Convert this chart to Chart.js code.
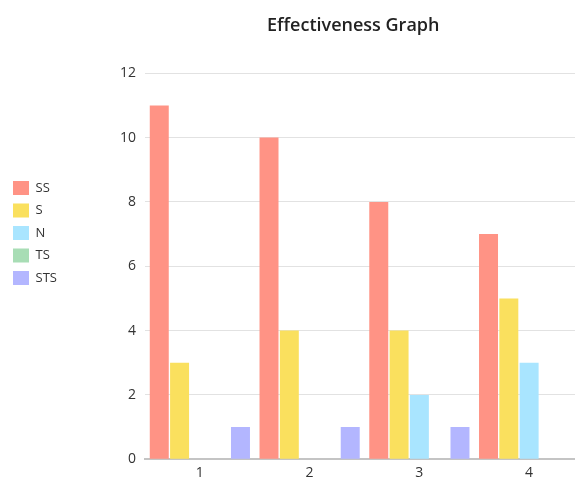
<!DOCTYPE html>
<html>
<head>
<meta charset="utf-8">
<script src="https://cdn.jsdelivr.net/npm/chart.js@4.4.1/dist/chart.umd.min.js"></script>
<style>
  html, body { margin: 0; padding: 0; overflow: hidden; background: #fff; }
  #wrap { position: absolute; left: 0; top: 0; width: 702px; height: 490px; }
</style>
</head>
<body>
<div id="wrap"><canvas id="c" width="702" height="490"></canvas></div>
<script>
const categories = ["1", "2", "3", "4"];
const seriesNames = ["SS", "S", "N", "TS", "STS"];
const ssValues = [11, 10, 8, 7];
const sValues = [3, 4, 4, 5];
const nValues = [0, 0, 2, 3];
const tsValues = [0, 0, 0, 0];
const stsValues = [1, 1, 1, 0];
const yTicks = [0, 2, 4, 6, 8, 10, 12];
const chartTitle = "Effectiveness Graph";

const colors = ["#FF9385", "#FAE05E", "#A9E5FF", "#A8DDB5", "#B3B6FF"];
const allValues = [ssValues, sValues, nValues, tsValues, stsValues];

const FONT = "'Open Sans', 'DejaVu Sans', sans-serif";

const chart = new Chart(document.getElementById('c'), {
  type: 'bar',
  data: {
    labels: categories,
    datasets: seriesNames.map((name, i) => ({
      label: name,
      data: allValues[i],
      backgroundColor: colors[i],
      borderWidth: 0,
      categoryPercentage: 0.925,
      barPercentage: 0.935
    }))
  },
  options: {
    responsive: false,
    animation: false,
    devicePixelRatio: 1,
    layout: { padding: { left: 4.5, top: 0, right: 0, bottom: 4 } },
    plugins: {
      title: {
        display: true,
        text: chartTitle,
        color: '#222',
        font: { family: FONT, size: 18, weight: '600' },
        padding: { top: 15.2, bottom: 36.5 }
      },
      legend: {
        position: 'left',
        align: 'start',
        title: {
          display: true,
          text: '',
          font: { size: 1 },
          padding: { top: 171.3, bottom: 0 }
        },
        labels: {
          boxWidth: 16,
          boxHeight: 14,
          padding: 8.5,
          color: '#333',
          font: { family: FONT, size: 13 }
        }
      },
      tooltip: { enabled: false }
    },
    scales: {
      x: {
        grid: { display: false, drawTicks: false },
        border: { display: true, color: '#c4c4c4', width: 2 },
        ticks: { color: '#333', font: { family: FONT, size: 14 }, padding: 5 }
      },
      y: {
        min: 0,
        max: 12,
        afterBuildTicks: (s) => { s.ticks = yTicks.map(v => ({ value: v })); },
        grid: { color: '#e2e2e2', lineWidth: 1, drawTicks: false },
        border: { display: false },
        ticks: { color: '#333', font: { family: FONT, size: 14 }, padding: 9 },
        afterFit: (s) => { s.width = 140.5 - (s.chart.legend ? s.chart.legend.width : 0); }
      },
      y2: {
        position: 'right',
        display: true,
        grid: { display: false, drawTicks: false },
        border: { display: false },
        ticks: { display: false },
        afterFit: (s) => { s.width = 118; }
      }
    }
  }
});
</script>
</body>
</html>
